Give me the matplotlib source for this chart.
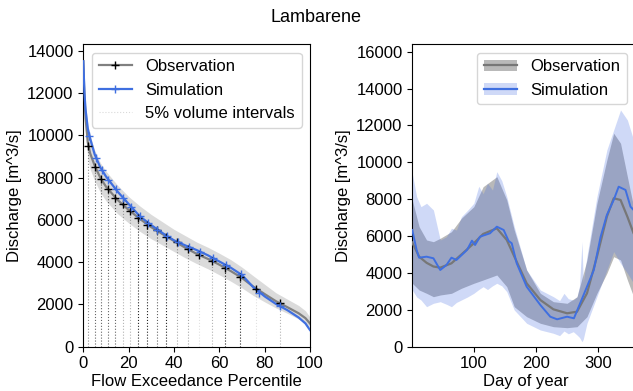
import numpy as np
import matplotlib
matplotlib.use("Agg")
import matplotlib.pyplot as plt
from matplotlib.lines import Line2D
from matplotlib.patches import Patch

plt.rcParams['font.family'] = ['Liberation Sans', 'DejaVu Sans']
plt.rcParams['font.size'] = 12

# ---------------- Flow duration curve data ----------------
fdc_pct = [0, 0.5, 1, 2, 3, 5, 7.5, 10, 15, 20, 25, 30, 35, 40, 45, 50, 55, 60,
           65, 70, 75, 80, 85, 90, 95, 98, 100]
fdc_obs = [13500, 11800, 10800, 9650, 9150, 8570, 7990, 7570, 6950, 6470, 6040,
           5650, 5320, 5000, 4680, 4390, 4150, 3880, 3580, 3250, 2840, 2490,
           2150, 1870, 1580, 1350, 1100]
fdc_sim = [13500, 12000, 11200, 10300, 9850, 9100, 8480, 8050, 7350, 6750, 6160,
           5750, 5370, 5030, 4790, 4570, 4320, 4030, 3740, 3390, 2810, 2380,
           2020, 1730, 1380, 1100, 790]
fdc_upper = [13600, 12400, 11500, 10500, 10000, 9300, 8700, 8300, 7650, 7100, 6650,
             6250, 5900, 5550, 5250, 4950, 4700, 4420, 4120, 3760, 3350, 2950,
             2550, 2250, 1950, 1700, 1400]
fdc_lower = [13400, 11200, 10100, 8900, 8400, 7850, 7300, 6900, 6300, 5850, 5450,
             5100, 4800, 4500, 4200, 3930, 3680, 3400, 3100, 2780, 2420, 2120,
             1830, 1580, 1310, 1130, 930]

# 5% volume interval markers
vol_pct_obs = [2.2, 5.2, 7.8, 10.8, 14.0, 17.3, 20.6, 24.3, 28.3, 32.4, 36.6, 41.3,
               46.0, 51.2, 56.6, 62.7, 69.3, 76.4, 86.7]
vol_q_obs = [9490, 8513, 7930, 7457, 7047, 6732, 6417, 6101, 5754, 5518, 5203, 4935,
             4604, 4336, 4068, 3736, 3311, 2727, 2050]
vol_pct_sim = [2.7, 5.5, 8.1, 11.1, 14.3, 17.7, 21.1, 24.8, 28.6, 32.7, 36.9, 41.6,
               46.5, 51.6, 57.1, 63.1, 69.6, 77.3, 86.7]
vol_q_sim = [9964, 8939, 8356, 7883, 7441, 7016, 6621, 6180, 5865, 5518, 5234, 4935,
             4730, 4493, 4210, 3863, 3421, 2554, 1923]
vline_alpha = [0.45, 0.6, 0.6, 0.6, 0.6, 0.3, 0.3, 0.85, 0.85, 0.6, 0.85, 0.35,
               0.35, 0.12, 0.3, 0.85, 0.85, 0.12, 0.3]

# ---------------- Seasonal (day of year) data ----------------
doy_obs = [1, 12, 24, 35, 46, 64, 80, 100, 115, 137, 153, 165, 185, 207, 228, 250,
           266, 282, 298, 314, 325, 336, 347, 357, 365]
obs_mean = [5650, 4883, 4550, 4350, 4287, 4522, 5000, 5609, 6113, 6421, 5788, 4900,
            3439, 2533, 2027, 1812, 1898, 2895, 4882, 7051, 8050, 7957, 7051, 6150,
            5700]
obs_upper = [7957, 6509, 5788, 5695, 5880, 6238, 6964, 7594, 8678, 9221, 7957, 6330,
             4160, 2895, 2441, 2354, 2712, 4703, 7778, 10127, 11575, 11033, 9221,
             7594, 7000]
obs_lower = [3439, 3075, 2895, 2712, 2804, 2895, 3168, 3439, 3618, 3889, 3254, 2170,
             1627, 1269, 1085, 1031, 1085, 1627, 2895, 3981, 4882, 4703, 3618, 2712,
             2500]

doy_sim = [1, 8, 12, 24, 35, 46, 56, 64, 72, 89, 97, 102, 110, 126, 137, 148, 156,
           161, 169, 185, 207, 223, 234, 250, 261, 271, 282, 293, 304, 314, 325, 333,
           344, 352, 357, 365]
sim_mean = [6330, 5245, 4828, 4882, 4795, 4160, 4431, 4828, 4703, 5245, 5750, 5516,
            5967, 6150, 6509, 6330, 5733, 5609, 4522, 3254, 2262, 1627, 1486, 1627,
            1540, 2354, 3254, 4160, 5967, 7143, 7957, 8678, 8500, 7594, 7415, 7300]

doy_sband = [1, 8, 15, 24, 35, 46, 56, 64, 72, 80, 90, 100, 108, 115, 122, 130, 137,
             145, 153, 165, 185, 207, 228, 238, 245, 252, 260, 266, 270, 274, 276,
             282, 298, 314, 325, 336, 347, 357, 365]
sim_upper = [9405, 8136, 7594, 7778, 7415, 5788, 5967, 6422, 6330, 7051, 7400, 7778,
             8700, 8300, 8863, 8500, 9492, 9000, 8136, 6509, 4160, 3075, 2712, 2500,
             2895, 2600, 2533, 2700, 3300, 5695, 3500, 4900, 8136, 10670, 11754,
             12839, 12296, 11212, 10500]
sim_lower = [3075, 2700, 2533, 2170, 2354, 2441, 2300, 2170, 2400, 2533, 2700, 2895,
             3100, 3254, 3100, 3300, 3439, 3300, 2983, 1991, 1269, 906, 727, 600, 850,
             700, 814, 635, 500, 271, 400, 1269, 2712, 4160, 5153, 4522, 3981, 3439,
             3200]

BLUE = '#3f6fe0'

fig = plt.figure(figsize=(6.33, 3.91), dpi=100)
ax1 = fig.add_axes([0.1316, 0.1133, 0.3581, 0.7734])
ax2 = fig.add_axes([0.6513, 0.1133, 0.3575, 0.7734])

# ---- Left panel: flow duration curve ----
ax1.fill_between(fdc_pct, fdc_lower, fdc_upper, color='gray', alpha=0.28, lw=0)
for x, y, a in zip(vol_pct_obs, vol_q_obs, vline_alpha):
    ax1.plot([x, x], [0, y], ls=':', color='black', lw=0.8, alpha=a, zorder=1)
ax1.plot(fdc_pct, fdc_obs, color='gray', lw=1.6, zorder=2)
ax1.plot(fdc_pct, fdc_sim, color=BLUE, lw=1.6, zorder=3)
ax1.plot(vol_pct_obs, vol_q_obs, ls='none', marker='+', color='black', ms=6, mew=1.0, zorder=4)
ax1.plot(vol_pct_sim, vol_q_sim, ls='none', marker='+', color=BLUE, ms=6, mew=1.0, zorder=4)
ax1.set_xlim(0, 100)
ax1.set_ylim(0, 14300)
ax1.set_yticks(np.arange(0, 14001, 2000))
ax1.set_xticks(np.arange(0, 101, 20))
ax1.set_xlabel('Flow Exceedance Percentile', labelpad=2)
ax1.set_ylabel('Discharge [m^3/s]')
h_obs = Line2D([], [], color='gray', lw=1.6, marker='+', mec='black', ms=6)
h_sim = Line2D([], [], color=BLUE, lw=1.6, marker='+', mec=BLUE, ms=6)
h_vol = Line2D([], [], color='black', ls=':', lw=0.8, alpha=0.15)
ax1.legend([h_obs, h_sim, h_vol], ['Observation', 'Simulation', '5% volume intervals'],
           loc='upper right', fontsize=12)

# ---- Right panel: seasonal cycle ----
ax2.fill_between(doy_obs, obs_lower, obs_upper, color='gray', alpha=0.55, lw=0)
ax2.fill_between(doy_sband, sim_lower, sim_upper, color='royalblue', alpha=0.25, lw=0)
ax2.plot(doy_obs, obs_mean, color='#777777', lw=1.6, zorder=3)
ax2.plot(doy_sim, sim_mean, color=BLUE, lw=1.4, zorder=4)
ax2.set_xlim(1, 365)
ax2.set_ylim(0, 16400)
ax2.set_yticks(np.arange(0, 16001, 2000))
ax2.set_xticks([100, 200, 300])
ax2.set_xlabel('Day of year', labelpad=2)
ax2.set_ylabel('Discharge [m^3/s]')
hp_obs = (Patch(color='gray', alpha=0.55, lw=0), Line2D([], [], color='#777777', lw=1.6))
hp_sim = (Patch(color='royalblue', alpha=0.25, lw=0), Line2D([], [], color=BLUE, lw=1.6))
ax2.legend([hp_obs, hp_sim], ['Observation', 'Simulation'], loc='upper right',
           fontsize=12, bbox_to_anchor=(0.985, 1.0))

fig.text(0.5, 0.955, 'Lambarene', ha='center', va='center', fontsize=13)

fig.savefig('out.png', dpi=100)
